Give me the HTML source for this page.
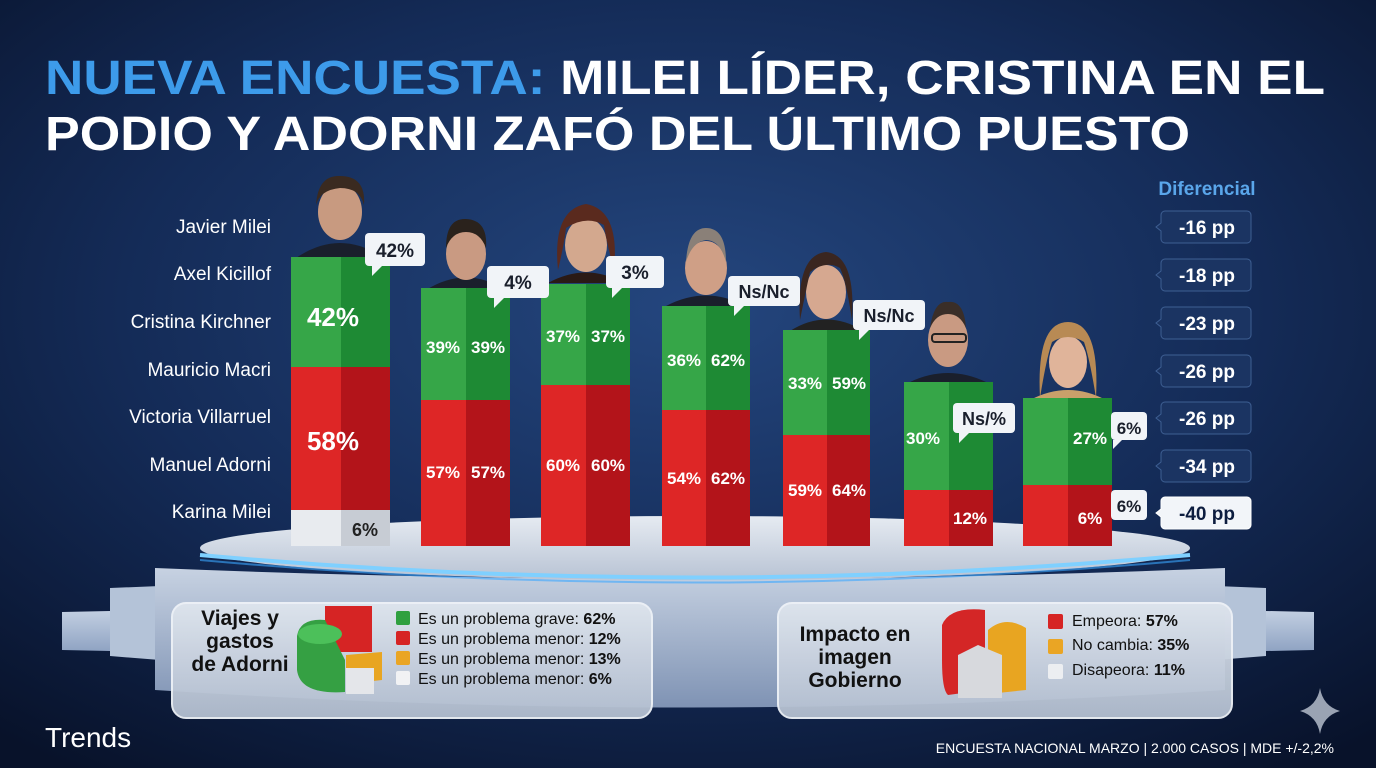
<!DOCTYPE html>
<html><head><meta charset="utf-8"><style>
html,body{margin:0;padding:0;width:1376px;height:768px;overflow:hidden;background:#0d1d3f}
svg{display:block}
text{font-family:"Liberation Sans",sans-serif}
</style></head><body>
<svg width="1376" height="768" viewBox="0 0 1376 768" xmlns="http://www.w3.org/2000/svg">
<defs>
<radialGradient id="bg" cx="0.5" cy="0.4" r="0.75">
<stop offset="0" stop-color="#24467e"/><stop offset="0.55" stop-color="#142b57"/><stop offset="1" stop-color="#08122a"/></radialGradient>
<linearGradient id="stage" x1="0" y1="0" x2="0" y2="1"><stop offset="0" stop-color="#e6ebf2"/><stop offset="1" stop-color="#b8c3d4"/></linearGradient>
<linearGradient id="body" x1="0" y1="0" x2="0" y2="1"><stop offset="0" stop-color="#c7d2e2"/><stop offset="1" stop-color="#7f93b4"/></linearGradient>
<linearGradient id="step" x1="0" y1="0" x2="0" y2="1"><stop offset="0" stop-color="#c3d0e2"/><stop offset="1" stop-color="#8ea2c2"/></linearGradient>
<linearGradient id="panel" x1="0" y1="0" x2="0" y2="1"><stop offset="0" stop-color="#dfe5ee"/><stop offset="1" stop-color="#b3bfd0"/></linearGradient>
</defs>
<rect width="1376" height="768" fill="url(#bg)"/>
<!-- title -->
<text x="45" y="94" font-size="48" font-weight="bold" fill="#fff" textLength="1280" lengthAdjust="spacingAndGlyphs"><tspan fill="#3d9bea">NUEVA ENCUESTA:</tspan> MILEI LÍDER, CRISTINA EN EL</text>
<text x="45" y="150" font-size="48" font-weight="bold" fill="#fff" textLength="1145" lengthAdjust="spacingAndGlyphs">PODIO Y ADORNI ZAFÓ DEL ÚLTIMO PUESTO</text>
<!-- steps -->
<path d="M62 612 L155 610 L155 652 L62 650Z" fill="url(#step)"/>
<path d="M110 588 L160 586 L160 660 L110 656Z" fill="#b4c3d8"/>
<path d="M1314 612 L1221 610 L1221 652 L1314 650Z" fill="url(#step)"/>
<path d="M1266 588 L1216 586 L1216 660 L1266 656Z" fill="#b4c3d8"/>
<path d="M155 568 Q690 590 1225 568 L1225 690 Q690 725 155 690Z" fill="url(#body)"/>
<ellipse cx="695" cy="548" rx="495" ry="32" fill="url(#stage)"/>
<path d="M200 555 Q695 600 1190 555" stroke="#7fd0ff" stroke-width="4" fill="none"/>
<path d="M200 560 Q695 605 1190 560" stroke="#3aa6ff" stroke-width="2" fill="none" opacity="0.6"/>
<!-- names -->
<g font-size="19" fill="#fff" text-anchor="end">
<text x="271" y="233">Javier Milei</text>
<text x="271" y="280">Axel Kicillof</text>
<text x="271" y="328">Cristina Kirchner</text>
<text x="271" y="376">Mauricio Macri</text>
<text x="271" y="423">Victoria Villarruel</text>
<text x="271" y="471">Manuel Adorni</text>
<text x="271" y="518">Karina Milei</text>
</g>
<!-- diferencial -->
<text x="1207" y="195" font-size="19" font-weight="bold" fill="#5aa6ea" text-anchor="middle">Diferencial</text>
<g font-size="19" font-weight="bold" fill="#fff" text-anchor="middle">
<g fill="#1b3462" stroke="#3e5f93" stroke-width="1">
<path d="M1165 211h82a4 4 0 0 1 4 4v24a4 4 0 0 1-4 4h-82a4 4 0 0 1-4-4v-8l-5-4 5-4v-8a4 4 0 0 1 4-4z"/>
<path d="M1165 259h82a4 4 0 0 1 4 4v24a4 4 0 0 1-4 4h-82a4 4 0 0 1-4-4v-8l-5-4 5-4v-8a4 4 0 0 1 4-4z"/>
<path d="M1165 307h82a4 4 0 0 1 4 4v24a4 4 0 0 1-4 4h-82a4 4 0 0 1-4-4v-8l-5-4 5-4v-8a4 4 0 0 1 4-4z"/>
<path d="M1165 355h82a4 4 0 0 1 4 4v24a4 4 0 0 1-4 4h-82a4 4 0 0 1-4-4v-8l-5-4 5-4v-8a4 4 0 0 1 4-4z"/>
<path d="M1165 402h82a4 4 0 0 1 4 4v24a4 4 0 0 1-4 4h-82a4 4 0 0 1-4-4v-8l-5-4 5-4v-8a4 4 0 0 1 4-4z"/>
<path d="M1165 450h82a4 4 0 0 1 4 4v24a4 4 0 0 1-4 4h-82a4 4 0 0 1-4-4v-8l-5-4 5-4v-8a4 4 0 0 1 4-4z"/>
<path d="M1165 497h82a4 4 0 0 1 4 4v24a4 4 0 0 1-4 4h-82a4 4 0 0 1-4-4v-8l-5-4 5-4v-8a4 4 0 0 1 4-4z" fill="#f2f5f9" stroke="#fff"/>
</g>
<text x="1207" y="234">-16 pp</text>
<text x="1207" y="282">-18 pp</text>
<text x="1207" y="330">-23 pp</text>
<text x="1207" y="378">-26 pp</text>
<text x="1207" y="425">-26 pp</text>
<text x="1207" y="473">-34 pp</text>
<text x="1207" y="520" fill="#0d1d3f">-40 pp</text>
</g>
<!-- persons -->
<g>
<path d="M296 258 Q340 228 384 258Z" fill="#1a1f2c"/><ellipse cx="340" cy="212" rx="22" ry="28" fill="#c89a80"/><path d="M316 205 Q318 175 340 176 Q366 176 364 205 Q360 188 340 188 Q320 190 316 205Z" fill="#3a2a20"/>
<path d="M426 290 Q466 265 506 290Z" fill="#1a1f2c"/><ellipse cx="466" cy="254" rx="20" ry="26" fill="#c99a82"/><path d="M446 248 Q446 218 466 219 Q488 220 486 248 Q480 232 466 232 Q452 232 446 248Z" fill="#2a221c"/>
<path d="M548 283 Q586 262 624 283Z" fill="#2a1a16"/><ellipse cx="586" cy="245" rx="21" ry="27" fill="#d3a88e"/><path d="M558 270 Q552 210 586 204 Q620 210 614 270 Q606 240 604 225 Q586 215 566 228 Q564 245 558 270Z" fill="#5a2a1e"/>
<path d="M666 306 Q706 285 746 306Z" fill="#1a1f2c"/><ellipse cx="706" cy="268" rx="21" ry="27" fill="#cf9f86"/><path d="M686 262 Q688 228 706 228 Q726 228 726 262 Q720 240 706 240 Q692 242 686 262Z" fill="#8a8078"/>
<path d="M790 331 Q826 308 864 331Z" fill="#222"/><ellipse cx="826" cy="292" rx="20" ry="27" fill="#d6a890"/><path d="M800 320 Q796 255 826 252 Q856 255 852 320 Q846 280 840 268 Q826 260 810 272 Q806 290 800 320Z" fill="#3a2620"/>
<path d="M906 384 Q948 362 990 384Z" fill="#1a1f2c"/><ellipse cx="948" cy="340" rx="20" ry="27" fill="#c99a82"/><path d="M930 328 Q934 300 948 302 Q964 300 966 328 Q960 314 948 314 Q936 314 930 328Z" fill="#3a2e28"/><rect x="932" y="334" width="34" height="8" rx="3" fill="none" stroke="#222" stroke-width="2"/>
<path d="M1030 400 Q1068 380 1106 400Z" fill="#c9a06a"/><ellipse cx="1068" cy="362" rx="19" ry="26" fill="#e0b49a"/><path d="M1040 398 Q1036 322 1068 322 Q1100 322 1096 398 Q1090 360 1084 342 Q1068 332 1052 342 Q1046 360 1040 398Z" fill="#b88a54"/>
</g>
<!-- bars -->
<g font-weight="bold" fill="#fff" text-anchor="middle">
<rect x="291" y="257" width="50" height="110" fill="#36a648"/><rect x="341" y="257" width="49" height="110" fill="#1e8a34"/>
<rect x="291" y="367" width="50" height="143" fill="#de2626"/><rect x="341" y="367" width="49" height="143" fill="#b3141a"/>
<rect x="291" y="510" width="50" height="36" fill="#e8ebef"/><rect x="341" y="510" width="49" height="36" fill="#c7ccd4"/>
<text x="333" y="326" font-size="26">42%</text><text x="333" y="450" font-size="26">58%</text><text x="365" y="536" font-size="18" fill="#222">6%</text>
<rect x="421" y="288" width="45" height="112" fill="#36a648"/><rect x="466" y="288" width="44" height="112" fill="#1e8a34"/>
<rect x="421" y="400" width="45" height="146" fill="#de2626"/><rect x="466" y="400" width="44" height="146" fill="#b3141a"/>
<text x="443" y="353" font-size="17">39%</text><text x="488" y="353" font-size="17">39%</text>
<text x="443" y="478" font-size="17">57%</text><text x="488" y="478" font-size="17">57%</text>
<rect x="541" y="284" width="45" height="101" fill="#36a648"/><rect x="586" y="284" width="44" height="101" fill="#1e8a34"/>
<rect x="541" y="385" width="45" height="161" fill="#de2626"/><rect x="586" y="385" width="44" height="161" fill="#b3141a"/>
<text x="563" y="342" font-size="17">37%</text><text x="608" y="342" font-size="17">37%</text>
<text x="563" y="471" font-size="17">60%</text><text x="608" y="471" font-size="17">60%</text>
<rect x="662" y="306" width="44" height="104" fill="#36a648"/><rect x="706" y="306" width="44" height="104" fill="#1e8a34"/>
<rect x="662" y="410" width="44" height="136" fill="#de2626"/><rect x="706" y="410" width="44" height="136" fill="#b3141a"/>
<text x="684" y="366" font-size="17">36%</text><text x="728" y="366" font-size="17">62%</text>
<text x="684" y="484" font-size="17">54%</text><text x="728" y="484" font-size="17">62%</text>
<rect x="783" y="330" width="44" height="105" fill="#36a648"/><rect x="827" y="330" width="43" height="105" fill="#1e8a34"/>
<rect x="783" y="435" width="44" height="111" fill="#de2626"/><rect x="827" y="435" width="43" height="111" fill="#b3141a"/>
<text x="805" y="389" font-size="17">33%</text><text x="849" y="389" font-size="17">59%</text>
<text x="805" y="496" font-size="17">59%</text><text x="849" y="496" font-size="17">64%</text>
<rect x="904" y="382" width="45" height="108" fill="#36a648"/><rect x="949" y="382" width="44" height="108" fill="#1e8a34"/>
<rect x="904" y="490" width="45" height="56" fill="#de2626"/><rect x="949" y="490" width="44" height="56" fill="#b3141a"/>
<text x="923" y="444" font-size="17">30%</text><text x="970" y="524" font-size="17">12%</text>
<rect x="1023" y="398" width="45" height="87" fill="#36a648"/><rect x="1068" y="398" width="44" height="87" fill="#1e8a34"/>
<rect x="1023" y="485" width="45" height="61" fill="#de2626"/><rect x="1068" y="485" width="44" height="61" fill="#b3141a"/>
<text x="1090" y="444" font-size="17">27%</text><text x="1090" y="524" font-size="17">6%</text>
</g>
<!-- callouts -->
<g font-weight="bold" font-size="19" fill="#1a1f2c" text-anchor="middle">
<g fill="#f1f4f8">
<rect x="365" y="233" width="60" height="33" rx="4"/><path d="M372 266 l0 10 l10 -10z"/>
<rect x="487" y="266" width="62" height="32" rx="4"/><path d="M494 298 l0 10 l10 -10z"/>
<rect x="606" y="256" width="58" height="32" rx="4"/><path d="M612 288 l0 10 l10 -10z"/>
<rect x="728" y="276" width="72" height="30" rx="4"/><path d="M734 306 l0 10 l10 -10z"/>
<rect x="853" y="300" width="72" height="30" rx="4"/><path d="M859 330 l0 10 l10 -10z"/>
<rect x="953" y="403" width="62" height="30" rx="4"/><path d="M959 433 l0 10 l10 -10z"/>
<rect x="1111" y="412" width="36" height="28" rx="4"/><path d="M1113 440 l0 9 l9 -9z"/>
<rect x="1111" y="490" width="36" height="30" rx="4"/>
</g>
<text x="395" y="257">42%</text><text x="518" y="289">4%</text><text x="635" y="279">3%</text>
<text x="764" y="298" font-size="18">Ns/Nc</text><text x="889" y="322" font-size="18">Ns/Nc</text><text x="984" y="425" font-size="18">Ns/%</text>
<text x="1129" y="434" font-size="17">6%</text><text x="1129" y="512" font-size="17">6%</text>
</g>
<!-- panels -->
<rect x="172" y="603" width="480" height="115" rx="14" fill="url(#panel)" stroke="#eef2f7" stroke-width="2" opacity="0.95"/>
<rect x="778" y="603" width="454" height="115" rx="14" fill="url(#panel)" stroke="#eef2f7" stroke-width="2" opacity="0.95"/>
<g font-weight="bold" font-size="21" fill="#111" text-anchor="middle">
<text x="240" y="625">Viajes y</text><text x="240" y="648">gastos</text><text x="240" y="671">de Adorni</text>
<text x="855" y="641">Impacto en</text><text x="855" y="664">imagen</text><text x="855" y="687">Gobierno</text>
</g>
<path d="M325 606 L372 606 L372 652 L325 652Z" fill="#d62424"/>
<path d="M297 636 Q300 618 325 620 L345 660 L345 692 Q300 695 297 670Z" fill="#35a043"/>
<ellipse cx="320" cy="634" rx="22" ry="10" fill="#4cc05a"/>
<path d="M346 655 L382 652 L382 680 L346 684Z" fill="#e8a521"/>
<path d="M346 668 L374 668 L374 694 L346 694Z" fill="#e4e6ea"/>
<g font-size="16" fill="#111">
<rect x="396" y="611" width="14" height="14" rx="2" fill="#2fa040"/><rect x="396" y="631" width="14" height="14" rx="2" fill="#d62424"/>
<rect x="396" y="651" width="14" height="14" rx="2" fill="#eaa524"/><rect x="396" y="671" width="14" height="14" rx="2" fill="#f1f2f4"/>
<text x="418" y="624">Es un problema grave: <tspan font-weight="bold">62%</tspan></text>
<text x="418" y="644">Es un problema menor: <tspan font-weight="bold">12%</tspan></text>
<text x="418" y="664">Es un problema menor: <tspan font-weight="bold">13%</tspan></text>
<text x="418" y="684">Es un problema menor: <tspan font-weight="bold">6%</tspan></text>
</g>
<path d="M942 625 Q950 606 985 610 L985 690 L948 695 Q942 690 942 660Z" fill="#d42626"/>
<path d="M988 630 Q1005 615 1026 628 L1026 690 L988 694Z" fill="#e8a521"/>
<path d="M958 655 L978 645 L1002 655 L1002 698 L958 698Z" fill="#d7d9dd"/>
<g font-size="16" fill="#111">
<rect x="1048" y="614" width="15" height="15" rx="2" fill="#d62424"/><rect x="1048" y="639" width="15" height="15" rx="2" fill="#eaa524"/><rect x="1048" y="664" width="15" height="15" rx="2" fill="#eceef1"/>
<text x="1072" y="626">Empeora: <tspan font-weight="bold">57%</tspan></text>
<text x="1072" y="650">No cambia: <tspan font-weight="bold">35%</tspan></text>
<text x="1072" y="675">Disapeora: <tspan font-weight="bold">11%</tspan></text>
</g>
<text x="45" y="747" font-size="28" fill="#fff">Trends</text>
<text x="1334" y="753" font-size="14" fill="#fff" text-anchor="end">ENCUESTA NACIONAL MARZO | 2.000 CASOS | MDE +/-2,2%</text>
<path d="M1320 688 Q1323 706 1340 711 Q1323 716 1320 734 Q1317 716 1300 711 Q1317 706 1320 688Z" fill="#9aa3b3"/>
</svg>
</body></html>
